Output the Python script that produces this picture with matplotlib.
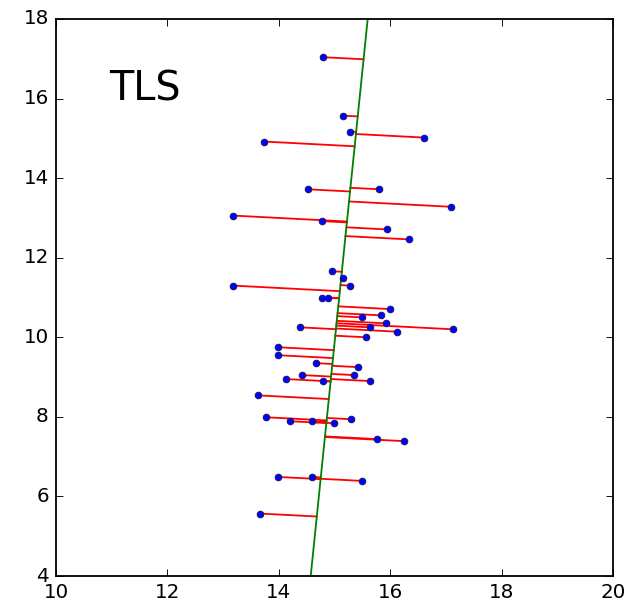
import matplotlib
matplotlib.use('Agg')
import matplotlib.pyplot as plt
import numpy as np

plt.style.use('classic')

# Sample points
x_vals = [14.80, 15.16, 15.27, 16.60, 13.73, 14.52, 15.80, 17.09,
          13.17, 14.77, 15.95, 16.34, 14.95, 15.16, 15.27, 13.17,
          14.77, 14.88, 15.99, 15.84, 15.49, 15.92, 14.38, 17.13,
          15.63, 16.13, 15.56, 13.98, 13.98, 14.67, 15.42, 14.42,
          15.35, 14.13, 14.80, 15.63, 13.63, 13.77, 14.20, 14.59,
          14.99, 15.30, 15.77, 16.24, 13.99, 14.59, 15.49, 13.66]
y_vals = [17.04, 15.57, 15.17, 15.02, 14.92, 13.72, 13.72, 13.28,
          13.06, 12.92, 12.71, 12.46, 11.66, 11.50, 11.30, 11.30,
          11.00, 11.00, 10.71, 10.55, 10.50, 10.35, 10.25, 10.20,
          10.25, 10.14, 10.00, 9.75, 9.55, 9.35, 9.25, 9.05,
          9.05, 8.95, 8.90, 8.90, 8.54, 7.99, 7.89, 7.89,
          7.84, 7.94, 7.44, 7.39, 6.49, 6.49, 6.39, 5.57]

x = np.array(x_vals)
y = np.array(y_vals)

# Total least squares fit via SVD
mean = np.array([x.mean(), y.mean()])
pts = np.column_stack([x, y]) - mean
_, _, vt = np.linalg.svd(pts)
direction = vt[0]

# Orthogonal projections onto the fitted line
t = pts @ direction
proj = mean + np.outer(t, direction)

fig, ax = plt.subplots(figsize=(626 / 130, 606 / 130), dpi=130)
fig.subplots_adjust(left=56 / 626, right=613 / 626, top=1 - 19 / 606, bottom=1 - 576 / 606)

for xi, yi, (px, py) in zip(x, y, proj):
    ax.plot([xi, px], [yi, py], 'r-', lw=1)

y_line = np.array([4, 18])
x_line = mean[0] + (y_line - mean[1]) * direction[0] / direction[1]
ax.plot(x_line, y_line, 'g-', lw=1)

ax.plot(x, y, 'bo', ms=3.6, mec='#1a1a70', mew=0.6)

ax.text(10.95, 15.95, 'TLS', fontsize=22)

ax.set_xlim(10, 20)
ax.set_ylim(4, 18)
ax.tick_params(labelsize=11)

fig.savefig('out.png', dpi=130)
